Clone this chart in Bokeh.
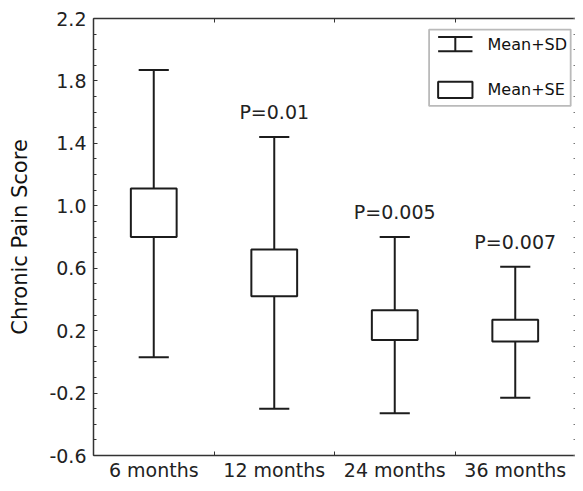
import numpy as np
from bokeh.plotting import figure
from bokeh.models import (ColumnDataSource, FixedTicker, LinearAxis, Range1d,
                          NumeralTickFormatter, BoxAnnotation)
from bokeh.core.properties import value
from bokeh.embed import file_html
from bokeh.resources import INLINE

# ---- data ----
months = ["6 months", "12 months", "24 months", "36 months"]
sd_high = [1.87, 1.44, 0.80, 0.61]
se_high = [1.11, 0.72, 0.33, 0.27]
se_low = [0.80, 0.42, 0.14, 0.13]
sd_low = [0.03, -0.30, -0.33, -0.23]
p_labels = ["", "P=0.01", "P=0.005", "P=0.007"]
y_ticks = [-0.6, -0.2, 0.2, 0.6, 1.0, 1.4, 1.8, 2.2]
legend_labels = ["Mean+SD", "Mean+SE"]

# ---- style / layout ----
FONT = "DejaVu Sans"
INK = "#1c1c1c"
AXIS = "#333333"
BOX_W = 0.76
CAP_HALF = 0.25

n = len(months)
xc = np.arange(n) * 2 + 1          # category centres on a numeric axis
bounds = [float(b) for b in np.arange(1, n) * 2]
minor_y = [round(float(v), 1) for v in np.arange(-0.6, 2.25, 0.1)]

src = ColumnDataSource(dict(
    x=xc.astype(float), sd_high=sd_high, se_high=se_high, se_low=se_low,
    sd_low=sd_low, cap_l=xc - CAP_HALF, cap_r=xc + CAP_HALF,
))
has_p = [i for i, t in enumerate(p_labels) if t]
psrc = ColumnDataSource(dict(x=[float(xc[i]) for i in has_p],
                             y=[sd_high[i] for i in has_p],
                             p=[p_labels[i] for i in has_p]))

p = figure(width=575, height=483, output_backend="svg", toolbar_location=None,
           x_range=Range1d(0, 2 * n), y_range=Range1d(y_ticks[0], y_ticks[-1]),
           x_axis_type=None, y_axis_type=None,
           min_border_left=93, min_border_top=18, min_border_right=0,
           min_border_bottom=0)
p.outline_line_color = None
p.background_fill_color = "white"
p.border_fill_color = "white"

# left axis
left = LinearAxis(ticker=FixedTicker(ticks=y_ticks, minor_ticks=minor_y),
                  formatter=NumeralTickFormatter(format="0.0"),
                  axis_label="Chronic Pain Score")
left.axis_line_color = AXIS
left.axis_line_width = 1.5
left.major_tick_in = 4
left.major_tick_out = 0
left.minor_tick_in = 3
left.minor_tick_out = 0
left.major_tick_line_color = AXIS
left.minor_tick_line_color = AXIS
left.major_label_text_font = FONT
left.major_label_text_font_size = "19px"
left.major_label_text_color = "#222222"
left.major_label_standoff = 7
left.axis_label_text_font = FONT
left.axis_label_text_font_size = "21px"
left.axis_label_text_font_style = "normal"
left.axis_label_text_color = "#111111"
left.axis_label_standoff = 14
p.add_layout(left, "left")

# right axis (minor ticks only, so no labels)
right = LinearAxis(ticker=FixedTicker(ticks=[], minor_ticks=minor_y))
right.axis_line_color = None
right.major_label_standoff = 0
right.minor_tick_in = 2
right.minor_tick_out = 0
right.minor_tick_line_color = "#777777"
p.add_layout(right, "right")

# top axis (boundary ticks as minor ticks, so no labels)
top = LinearAxis(ticker=FixedTicker(ticks=[], minor_ticks=bounds))
top.axis_line_color = AXIS
top.axis_line_width = 1.5
top.major_label_standoff = 0
top.minor_tick_in = 4
top.minor_tick_out = 0
top.minor_tick_line_color = AXIS
p.add_layout(top, "above")

# bottom axis: labels at centres, ticks at boundaries
bottom = LinearAxis(ticker=FixedTicker(ticks=[float(v) for v in xc], minor_ticks=bounds))
bottom.major_label_overrides = {int(v): m for v, m in zip(xc, months)}
bottom.axis_line_color = AXIS
bottom.axis_line_width = 1.5
bottom.major_tick_in = 0
bottom.major_tick_out = 0
bottom.minor_tick_in = 4
bottom.minor_tick_out = 0
bottom.minor_tick_line_color = AXIS
bottom.major_label_text_font = FONT
bottom.major_label_text_font_size = "19px"
bottom.major_label_text_color = "#222222"
bottom.major_label_standoff = 3
p.add_layout(bottom, "below")

# whiskers (mean +/- SD)
p.segment(x0="x", y0="sd_low", x1="x", y1="sd_high", source=src,
          line_color=INK, line_width=2)
p.segment(x0="cap_l", y0="sd_high", x1="cap_r", y1="sd_high", source=src,
          line_color=INK, line_width=2)
p.segment(x0="cap_l", y0="sd_low", x1="cap_r", y1="sd_low", source=src,
          line_color=INK, line_width=2)
# boxes (mean +/- SE)
p.vbar(x="x", width=BOX_W, top="se_high", bottom="se_low", source=src,
       fill_color="white", line_color=INK, line_width=2)
# P-values
p.text(x="x", y="y", text="p", source=psrc, text_align="center",
       text_baseline="middle", y_offset=-25, text_font=value(FONT),
       text_font_size="19px", text_color="#222222")

# ---- legend (drawn by hand, in data coordinates) ----
LEG_L, LEG_R, LEG_B, LEG_T = 5.57, 7.92, 1.640, 2.129
ICON_L, ICON_R = 5.72, 6.29
ICON_C = (ICON_L + ICON_R) / 2
SD_ICON_B, SD_ICON_T = 1.990, 2.082
SE_ICON_B, SE_ICON_T = 1.690, 1.795
TEXT_X = 6.54
TEXT_Y = [2.035, 1.745]

p.add_layout(BoxAnnotation(left=LEG_L, right=LEG_R, bottom=LEG_B, top=LEG_T,
                           fill_alpha=0, line_color=INK, line_width=1.8))
p.segment(x0=[ICON_C, ICON_L, ICON_L], y0=[SD_ICON_B, SD_ICON_T, SD_ICON_B],
          x1=[ICON_C, ICON_R, ICON_R], y1=[SD_ICON_T, SD_ICON_T, SD_ICON_B],
          line_color=INK, line_width=2)
p.quad(left=[ICON_L], right=[ICON_R], bottom=[SE_ICON_B], top=[SE_ICON_T],
       fill_color="white", line_color=INK, line_width=2)
p.text(x=[TEXT_X, TEXT_X], y=TEXT_Y, text=legend_labels, text_align="left",
       text_baseline="middle", text_font=value(FONT), text_font_size="16px",
       text_color="#111111")

open("out.html", "w").write(file_html(p, INLINE))
